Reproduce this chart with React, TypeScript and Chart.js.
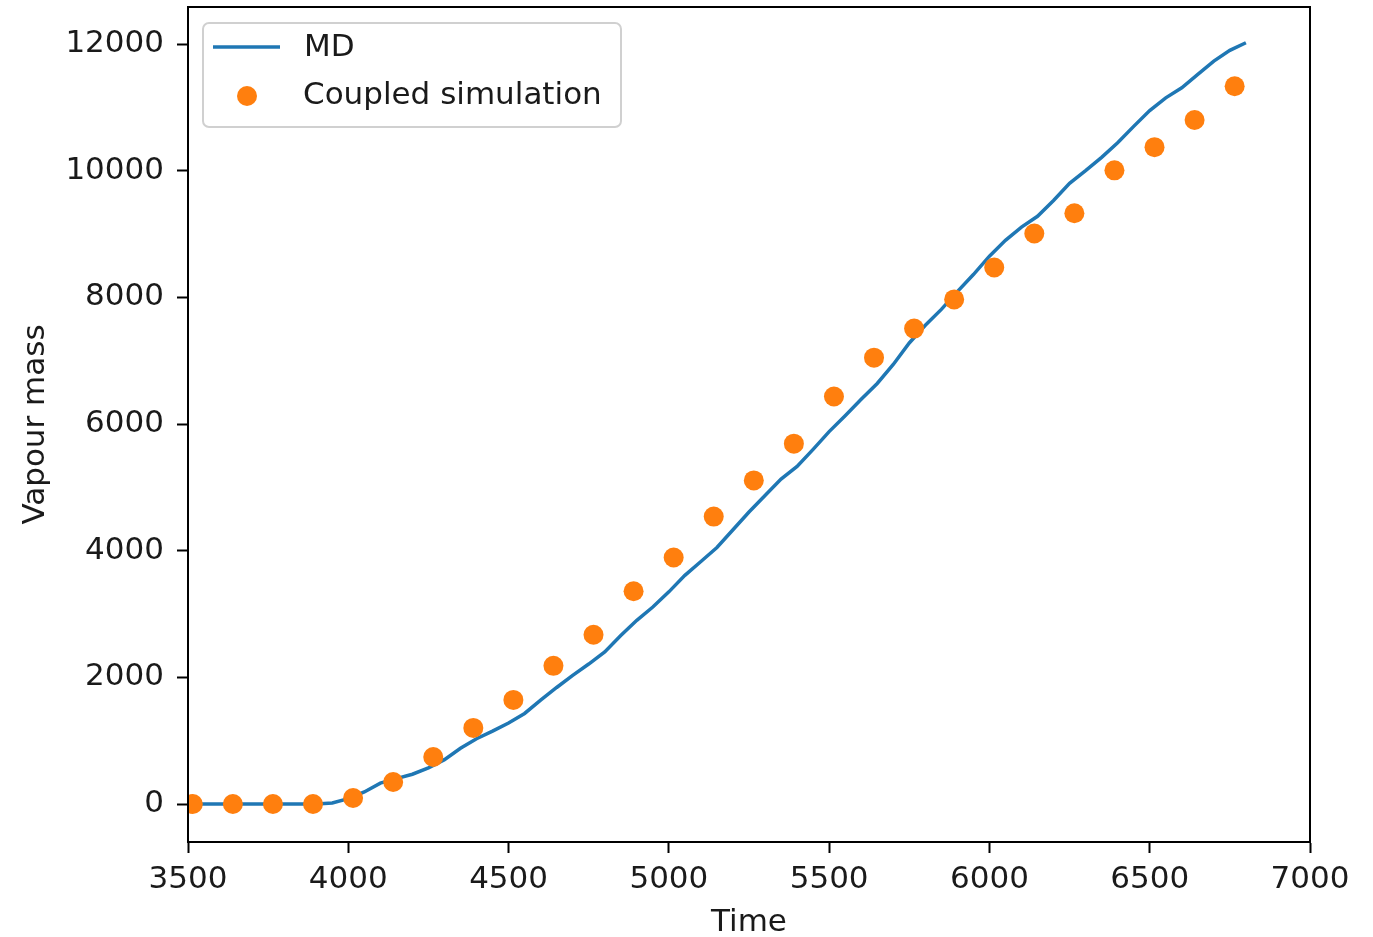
import React, { useEffect, useRef } from 'react';
import { Chart, registerables } from 'chart.js';

Chart.register(...registerables);

const MD_TIME = [
  3500, 3550, 3600, 3650, 3700, 3750, 3800, 3850, 3900, 3950,
  4000, 4050, 4100, 4150, 4200, 4250, 4300, 4350, 4400, 4450,
  4500, 4550, 4600, 4650, 4700, 4750, 4800, 4850, 4900, 4950,
  5000, 5050, 5100, 5150, 5200, 5250, 5300, 5350, 5400, 5450,
  5500, 5550, 5600, 5650, 5700, 5750, 5800, 5850, 5900, 5950,
  6000, 6050, 6100, 6150, 6200, 6250, 6300, 6350, 6400, 6450,
  6500, 6550, 6600, 6650, 6700, 6750, 6800,
];
const MD_MASS = [
  0, 0, 0, 0, 0, 0, 0, 0, 0, 15,
  85, 190, 330, 400, 470, 570, 700, 880, 1030, 1150,
  1280, 1430, 1640, 1840, 2030, 2210, 2400, 2660, 2900, 3110,
  3350, 3610, 3830, 4050, 4330, 4610, 4870, 5130, 5330, 5600,
  5880, 6130, 6390, 6640, 6940, 7280, 7560, 7810, 8090, 8360,
  8650, 8900, 9110, 9280, 9530, 9800, 10000, 10210, 10440, 10700,
  10950, 11150, 11310, 11520, 11730, 11900, 12020,
];

const COUPLED_TIME = [
  3515, 3640, 3765, 3890, 4015, 4140, 4265, 4390, 4515, 4640,
  4765, 4890, 5015, 5140, 5265, 5390, 5515, 5640, 5765, 5890,
  6015, 6140, 6265, 6390, 6515, 6640, 6765,
];
const COUPLED_MASS = [
  0, 0, 0, 0, 95, 348, 743, 1202, 1644, 2182,
  2672, 3360, 3893, 4538, 5110, 5690, 6435, 7048, 7507, 7968,
  8472, 9008, 9329, 10006, 10372, 10801, 11333,
];

const X_TICKS = [3500, 4000, 4500, 5000, 5500, 6000, 6500, 7000];
const Y_TICKS = [0, 2000, 4000, 6000, 8000, 10000, 12000];

const SERIES_LABELS = ['MD', 'Coupled simulation'];
const X_TITLE = 'Time';
const Y_TITLE = 'Vapour mass';

const FONT_FAMILY = '"DejaVu Sans", Verdana, sans-serif';
const FONT_SIZE = 31;
const TEXT_COLOR = '#1a1a1a';
const BLUE = '#1f77b4';
const ORANGE = '#ff7f0e';

export default function App() {
  const ref = useRef<HTMLCanvasElement>(null);

  useEffect(() => {
    document.body.style.margin = '0';
    const canvas = ref.current;
    if (!canvas) return;

    const framePlugin = {
      id: 'frame',
      afterDatasetsDraw(chart: any) {
        const { ctx, chartArea: a } = chart;
        ctx.save();
        ctx.strokeStyle = '#000';
        ctx.lineWidth = 2;
        ctx.strokeRect(a.left, a.top, a.right - a.left, a.bottom - a.top);
        ctx.restore();
      },
    };

    const legendPlugin = {
      id: 'mplLegend',
      afterDraw(chart: any) {
        const { ctx, chartArea: a } = chart;
        const ds = chart.data.datasets;
        const x0 = a.left + 15;
        const y0 = a.top + 16;
        const w = 418;
        const h = 104;
        const r = 6;
        ctx.save();
        ctx.beginPath();
        ctx.moveTo(x0 + r, y0);
        ctx.lineTo(x0 + w - r, y0);
        ctx.arcTo(x0 + w, y0, x0 + w, y0 + r, r);
        ctx.lineTo(x0 + w, y0 + h - r);
        ctx.arcTo(x0 + w, y0 + h, x0 + w - r, y0 + h, r);
        ctx.lineTo(x0 + r, y0 + h);
        ctx.arcTo(x0, y0 + h, x0, y0 + h - r, r);
        ctx.lineTo(x0, y0 + r);
        ctx.arcTo(x0, y0, x0 + r, y0, r);
        ctx.closePath();
        ctx.fillStyle = 'rgba(255,255,255,0.8)';
        ctx.fill();
        ctx.strokeStyle = '#d0d0d0';
        ctx.lineWidth = 2;
        ctx.stroke();

        const row1 = y0 + 24;
        const row2 = y0 + 73;
        ctx.beginPath();
        ctx.moveTo(x0 + 10, row1);
        ctx.lineTo(x0 + 77, row1);
        ctx.strokeStyle = ds[0].borderColor;
        ctx.lineWidth = ds[0].borderWidth;
        ctx.stroke();

        ctx.beginPath();
        ctx.arc(x0 + 44, row2, ds[1].pointRadius, 0, Math.PI * 2);
        ctx.fillStyle = ds[1].pointBackgroundColor;
        ctx.fill();

        ctx.fillStyle = TEXT_COLOR;
        ctx.font = `${FONT_SIZE}px ${FONT_FAMILY}`;
        ctx.textBaseline = 'middle';
        ctx.textAlign = 'left';
        ctx.fillText(ds[0].label, x0 + 101, row1 + 1);
        ctx.fillText(ds[1].label, x0 + 100, row2);
        ctx.restore();
      },
    };

    const tickFont = { family: FONT_FAMILY, size: FONT_SIZE };

    const chart = new Chart(canvas, {
      type: 'line',
      data: {
        datasets: [
          {
            label: SERIES_LABELS[0],
            data: MD_TIME.map((t, i) => ({ x: t, y: MD_MASS[i] })),
            borderColor: BLUE,
            backgroundColor: BLUE,
            borderWidth: 3.5,
            pointRadius: 0,
            fill: false,
            tension: 0,
            order: 2,
          },
          {
            label: SERIES_LABELS[1],
            data: COUPLED_TIME.map((t, i) => ({ x: t, y: COUPLED_MASS[i] })),
            showLine: false,
            borderColor: ORANGE,
            backgroundColor: ORANGE,
            pointBackgroundColor: ORANGE,
            pointBorderWidth: 0,
            pointRadius: 10,
            order: 1,
          },
        ] as any,
      },
      options: {
        animation: false,
        responsive: false,
        devicePixelRatio: 1,
        layout: { autoPadding: false, padding: { top: 7, right: 63, left: 0, bottom: 0 } },
        plugins: {
          legend: { display: false },
          tooltip: { enabled: false },
        },
        scales: {
          x: {
            type: 'linear',
            min: 3500,
            max: 7000,
            afterBuildTicks: (s: any) => {
              s.ticks = X_TICKS.map((v) => ({ value: v }));
            },
            afterFit: (s: any) => {
              s.height = 95;
              s.paddingLeft = 0;
              s.paddingRight = 0;
            },
            grid: {
              drawOnChartArea: false,
              drawTicks: true,
              tickLength: 11,
              tickWidth: 2,
              tickColor: '#000',
            },
            border: { display: true, color: '#000', width: 2 },
            ticks: {
              font: tickFont,
              color: TEXT_COLOR,
              padding: 8,
              maxRotation: 0,
              autoSkip: false,
              callback: (v: any) => String(v),
            },
            title: {
              display: true,
              text: X_TITLE,
              font: tickFont,
              color: TEXT_COLOR,
              padding: { top: 0, bottom: -5 },
            },
          },
          y: {
            type: 'linear',
            min: -600,
            max: 12585,
            afterBuildTicks: (s: any) => {
              s.ticks = Y_TICKS.map((v) => ({ value: v }));
            },
            afterFit: (s: any) => {
              s.width = 188;
              s.paddingTop = 0;
              s.paddingBottom = 0;
            },
            grid: {
              drawOnChartArea: false,
              drawTicks: true,
              tickLength: 11,
              tickWidth: 2,
              tickColor: '#000',
            },
            border: { display: true, color: '#000', width: 2 },
            ticks: {
              font: tickFont,
              color: TEXT_COLOR,
              padding: 13,
              autoSkip: false,
              callback: (v: any) => String(v),
            },
            title: {
              display: true,
              text: Y_TITLE,
              font: tickFont,
              color: TEXT_COLOR,
              padding: { top: 17, bottom: 0 },
            },
          },
        },
      } as any,
      plugins: [framePlugin, legendPlugin],
    });

    return () => chart.destroy();
  }, []);

  return <canvas ref={ref} width={1373} height={937} style={{ display: 'block' }} />;
}
